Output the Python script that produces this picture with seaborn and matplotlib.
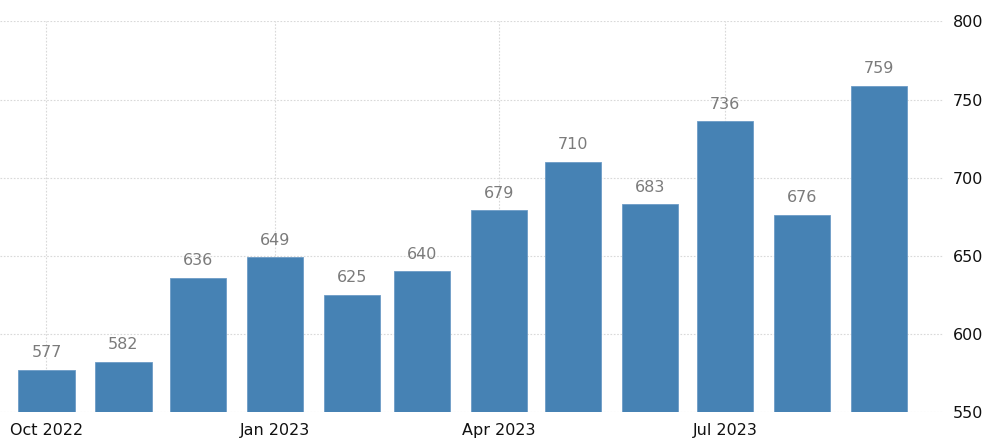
import matplotlib
matplotlib.use("Agg")
import matplotlib.pyplot as plt
import matplotlib.dates as mdates
import seaborn as sns
import pandas as pd
import datetime as dt

months = ["2022-10-01", "2022-11-01", "2022-12-01", "2023-01-01", "2023-02-01", "2023-03-01",
          "2023-04-01", "2023-05-01", "2023-06-01", "2023-07-01", "2023-08-01", "2023-09-01"]
values = [577, 582, 636, 649, 625, 640, 679, 710, 683, 736, 676, 759]
tick_dates = ["2022-10-01", "2023-01-01", "2023-04-01", "2023-07-01"]
tick_labels = ["Oct 2022", "Jan 2023", "Apr 2023", "Jul 2023"]
y_ticks = [550, 600, 650, 700, 750, 800]

df = pd.DataFrame({"date": pd.to_datetime(months), "value": values})
df["x"] = mdates.date2num(df["date"].dt.to_pydatetime())

sns.set_style("white")
plt.rcParams["font.family"] = ["DejaVu Sans"]

fig = plt.figure(figsize=(9.89, 4.43), dpi=100)
ax = fig.add_axes([0.0, 0.07, 0.9535, 0.8815])

sns.barplot(data=df, x="x", y="value", native_scale=True, width=0.81,
            color="#4682b4", saturation=1, edgecolor="#6d9cc6", linewidth=0.6, ax=ax)

ax.bar_label(ax.containers[0], labels=[str(v) for v in values], padding=7,
             color="#7b7b7b", fontsize=11.5)

x0 = mdates.date2num(dt.datetime(2022, 10, 1))
ax.set_xlim(x0 - 18.7, x0 + 360.8)
ax.set_ylim(550, 800)
ax.set_yticks(y_ticks)
ax.yaxis.tick_right()
ax.tick_params(axis="y", length=0, pad=7, labelsize=11.5, labelcolor="#111111")

tx = [mdates.date2num(pd.Timestamp(d).to_pydatetime()) for d in tick_dates]
ax.set_xticks(tx)
ax.set_xticklabels(tick_labels)
ax.tick_params(axis="x", length=5, color="#d0d0d0", width=0.8, pad=3,
               labelsize=11.5, labelcolor="#111111")

ax.grid(True, axis="both", linestyle=(0, (1.5, 1.5)), color="#d9d9d9", linewidth=0.8)
ax.set_axisbelow(True)
for s in ax.spines.values():
    s.set_visible(False)
ax.set_xlabel("")
ax.set_ylabel("")

fig.savefig("out.png", dpi=100)
